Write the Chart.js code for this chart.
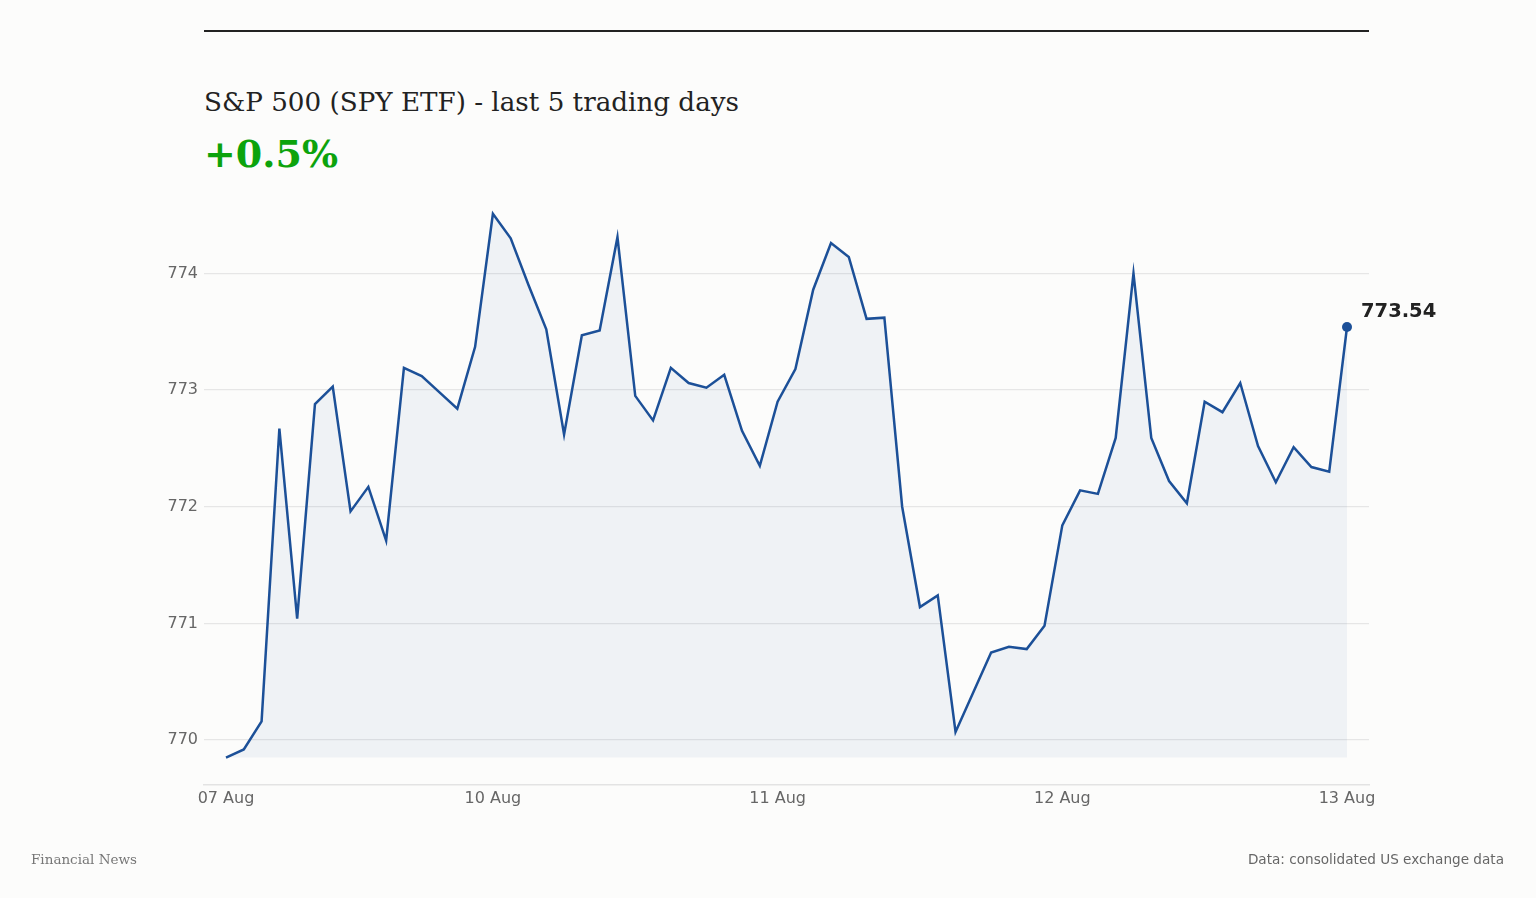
<!DOCTYPE html>
<html>
<head>
<meta charset="utf-8">
<script src="https://cdn.jsdelivr.net/npm/chart.js@4.4.1/dist/chart.umd.min.js"></script>
<style>
  html, body { margin: 0; padding: 0; background: #fcfcfb; }
  body { width: 1536px; height: 898px; position: relative; overflow: hidden; }
  #rule { position: absolute; left: 204px; top: 30px; width: 1165px; height: 2px; background: #222; }
  #title { position: absolute; left: 204px; top: 89px; font: 26.2px/26px "DejaVu Serif", serif; color: #222; white-space: nowrap; }
  #change { position: absolute; left: 204px; top: 135px; font: bold 38px/38px "DejaVu Serif", serif; color: #0ca30c; white-space: nowrap; }
  #src-left { position: absolute; left: 31px; top: 851px; font: 13.5px/16px "DejaVu Serif", serif; color: #777; }
  #src-right { position: absolute; right: 32px; top: 851px; font: 13.6px/16px "DejaVu Sans", sans-serif; color: #666; }
  #wrap { position: absolute; left: 0; top: 0; width: 1536px; height: 898px; }
</style>
</head>
<body>
<div id="rule"></div>
<div id="title">S&amp;P 500 (SPY ETF) - last 5 trading days</div>
<div id="change">+0.5%</div>
<div id="wrap"><canvas id="spyChart"></canvas></div>
<div id="src-left">Financial News</div>
<div id="src-right">Data: consolidated US exchange data</div>
<script>
// intraday closes, 64 samples over 5 sessions
const prices = [
  769.85, 769.92, 770.16, 772.67, 771.04, 772.88, 773.03, 771.96, 772.17, 771.71,
  773.19, 773.12, 772.98, 772.84, 773.37, 774.51, 774.30, 773.90, 773.52, 772.62,
  773.47, 773.51, 774.31, 772.95, 772.74, 773.19, 773.06, 773.02, 773.13, 772.65,
  772.35, 772.90, 773.18, 773.86, 774.26, 774.14, 773.61, 773.62, 772.00, 771.14,
  771.24, 770.07, 770.41, 770.75, 770.80, 770.78, 770.98, 771.84, 772.14, 772.11,
  772.59, 774.00, 772.59, 772.22, 772.03, 772.90, 772.81, 773.06, 772.52, 772.21,
  772.51, 772.34, 772.30, 773.54
];
const dayTickIndex = [0, 15, 31, 47, 63];
const dayTickLabels = ['07 Aug', '10 Aug', '11 Aug', '12 Aug', '13 Aug'];
const priceTicks = [770, 771, 772, 773, 774];

const lastIdx = prices.length - 1;
const points = prices.map((p, i) => ({ x: i, y: p }));

const lastLabel = {
  id: 'lastLabel',
  afterDatasetsDraw(chart) {
    const pt = chart.getDatasetMeta(0).data[lastIdx];
    const { ctx } = chart;
    ctx.save();
    ctx.font = 'bold 19.5px "DejaVu Sans", sans-serif';
    ctx.fillStyle = '#222';
    ctx.textAlign = 'left';
    ctx.textBaseline = 'middle';
    ctx.fillText(prices[lastIdx].toFixed(2), pt.x + 14, pt.y - 15);
    ctx.restore();
  }
};

new Chart(document.getElementById('spyChart'), {
  type: 'line',
  data: {
    datasets: [{
      data: points,
      borderColor: '#1c5098',
      borderWidth: 2.5,
      tension: 0,
      fill: { value: Math.min(...prices) },
      backgroundColor: 'rgba(28,80,152,0.06)',
      pointRadius: ctx => ctx.dataIndex === lastIdx ? 5 : 0,
      pointHoverRadius: 0,
      pointBackgroundColor: '#1c5098',
      pointBorderWidth: 0
    }]
  },
  options: {
    responsive: true,
    maintainAspectRatio: false,
    animation: false,
    layout: { padding: { left: 0, right: 167, top: 187, bottom: 0 } },
    plugins: { legend: { display: false }, tooltip: { enabled: false } },
    scales: {
      x: {
        type: 'linear',
        min: -1.236,
        max: 64.236,
        afterBuildTicks: s => { s.ticks = dayTickIndex.map(v => ({ value: v })); },
        afterFit: s => { s.height = 113; },
        grid: { display: false, drawTicks: false },
        border: { display: true, color: '#e3e3e3', width: 1.5 },
        ticks: {
          padding: 4,
          color: '#666',
          font: { family: 'DejaVu Sans', size: 16 },
          maxRotation: 0,
          autoSkip: false,
          callback: v => dayTickLabels[dayTickIndex.indexOf(v)]
        }
      },
      y: {
        min: 769.615,
        max: 774.74,
        afterBuildTicks: s => { s.ticks = priceTicks.map(v => ({ value: v })); },
        afterFit: s => { s.width = 204; },
        grid: { color: '#e6e6e6', lineWidth: 1.2, drawTicks: false },
        border: { display: false },
        ticks: {
          padding: 6,
          color: '#666',
          font: { family: 'DejaVu Sans', size: 16 },
          callback: v => String(v)
        }
      }
    }
  },
  plugins: [lastLabel]
});
</script>
</body>
</html>
